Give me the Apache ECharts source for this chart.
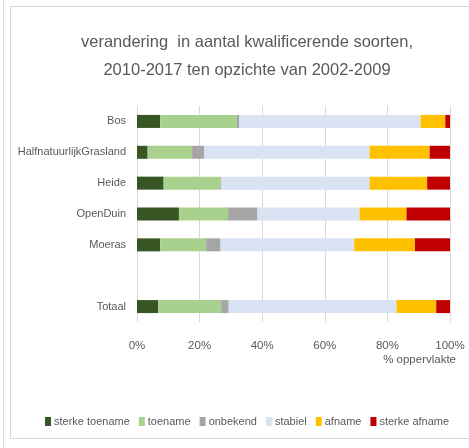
<!DOCTYPE html>
<html>
<head>
<meta charset="utf-8">
<script src="https://cdn.jsdelivr.net/npm/echarts@6/dist/echarts.min.js"></script>
<style>
html, body { margin: 0; padding: 0; background: #fff; }
#chart { width: 469px; height: 448px; }
</style>
</head>
<body>
<div id="chart"></div>
<script>
// categorieen (lege regel tussen Moeras en Totaal)
const categories = ['Bos', 'HalfnatuurlijkGrasland', 'Heide', 'OpenDuin', 'Moeras', '', 'Totaal']
const seriesNames = ['sterke toename', 'toename', 'onbekend', 'stabiel', 'afname', 'sterke afname']
const colors = ['#375623', '#a9d18e', '#a5a5a5', '#dae3f3', '#ffc000', '#c00000']

const sterkeToename = [7.4, 3.4, 8.5, 13.4, 7.4, null, 6.8]
const toename = [24.5, 14.2, 18.2, 15.7, 14.7, null, 20.1]
const onbekend = [0.8, 3.8, 0.3, 9.4, 4.6, null, 2.4]
const stabiel = [57.9, 52.9, 47.3, 32.6, 42.7, null, 53.6]
const afname = [7.9, 19.2, 18.4, 15.0, 19.4, null, 12.7]
const sterkeAfname = [1.5, 6.5, 7.3, 13.9, 11.2, null, 4.4]

const values = [sterkeToename, toename, onbekend, stabiel, afname, sterkeAfname]
const textColor = '#595959'
const font = '"Liberation Sans", sans-serif'

const myChart = echarts.init(document.getElementById('chart'))
const options = {
    animation: false,
    color: colors,
    title: {
        text: 'verandering  in aantal kwalificerende soorten,\n2010-2017 ten opzichte van 2002-2009',
        left: 242,
        textAlign: 'center',
        top: 23,
        textStyle: {
            color: textColor,
            fontFamily: font,
            fontWeight: 'normal',
            fontSize: 16.5,
            lineHeight: 28
        }
    },
    grid: {
        left: 137,
        right: 19,
        top: 106,
        height: 216
    },
    xAxis: {
        type: 'value',
        min: 0,
        max: 100,
        interval: 20,
        axisLabel: {
            formatter: '{value}%',
            color: textColor,
            fontFamily: font,
            fontSize: 11.5,
            margin: 18
        },
        axisLine: { show: false },
        axisTick: { show: false },
        splitLine: { lineStyle: { color: '#d9d9d9' } }
    },
    yAxis: {
        type: 'category',
        inverse: true,
        data: categories,
        axisLabel: {
            color: textColor,
            fontFamily: font,
            fontSize: 11,
            margin: 11
        },
        axisLine: { show: false },
        axisTick: { show: false }
    },
    legend: {
        bottom: 16,
        left: 40,
        width: 440,
        itemWidth: 6,
        itemHeight: 9,
        itemGap: 9,
        icon: 'rect',
        textStyle: {
            color: textColor,
            fontFamily: font,
            fontSize: 11,
            padding: [0, 0, 0, -2]
        },
        data: seriesNames
    },
    graphic: [
        {
            type: 'text',
            right: 13,
            top: 354,
            style: {
                text: '% oppervlakte',
                fill: textColor,
                font: '11.5px ' + font
            }
        },
        {
            type: 'rect',
            shape: { x: 10.5, y: 6.5, width: 470, height: 432 },
            style: { fill: 'none', stroke: '#d9d9d9', lineWidth: 1 },
            silent: true
        },
        {
            type: 'line',
            shape: { x1: 3.5, y1: 0, x2: 3.5, y2: 448 },
            style: { stroke: '#d9d9d9', lineWidth: 1 },
            silent: true
        }
    ],
    series: seriesNames.map((name, i) => ({
        name: name,
        type: 'bar',
        stack: 'total',
        barWidth: 13,
        data: values[i]
    }))
}
myChart.setOption(options)
</script>
</body>
</html>
